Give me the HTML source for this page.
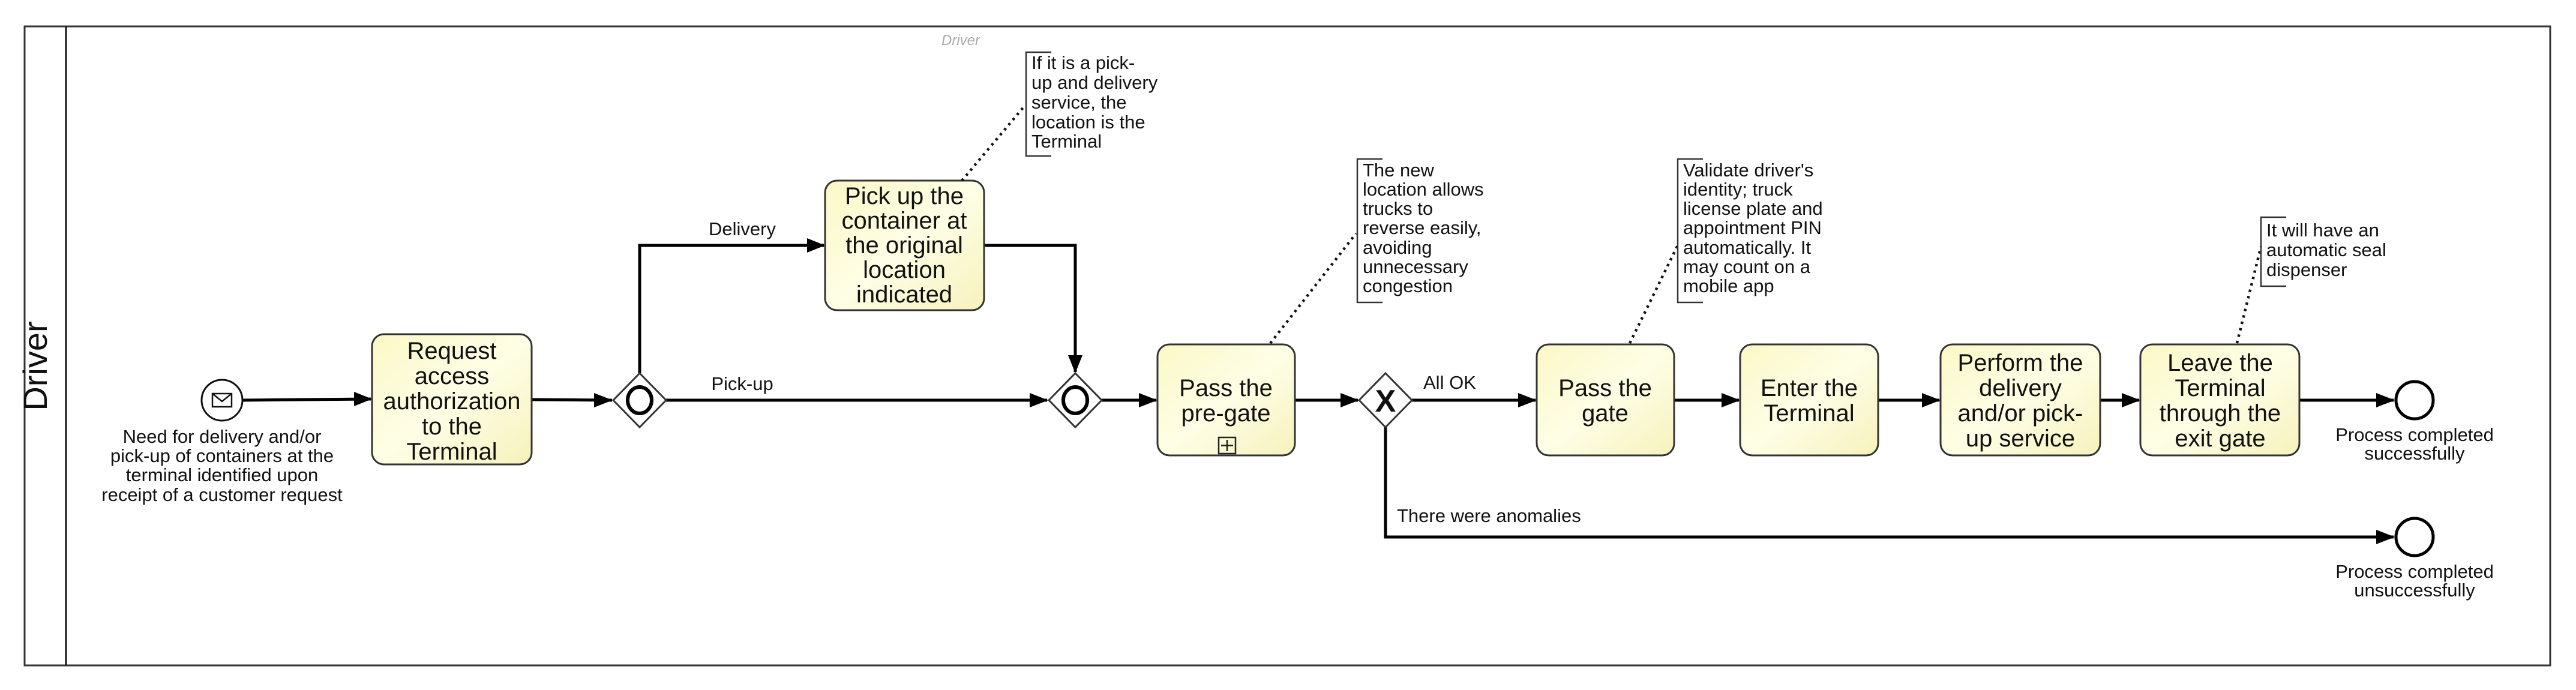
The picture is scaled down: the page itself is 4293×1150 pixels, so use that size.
<!DOCTYPE html>
<html><head><meta charset="utf-8"><style>
html,body{margin:0;padding:0;background:#fff;}
svg{display:block;}
text{font-family:"Liberation Sans Narrow","Liberation Sans",sans-serif;fill:#111;}
.t{font-size:40px;text-anchor:middle;}
.l{font-size:31px;}
.c{text-anchor:middle;}
</style></head><body>
<svg width="4293" height="1150" viewBox="0 0 4293 1150" xmlns="http://www.w3.org/2000/svg">
<defs>
<linearGradient id="g" x1="0" y1="0" x2="1" y2="1"><stop offset="0" stop-color="#fbf8c6"/><stop offset="0.5" stop-color="#fefee6"/><stop offset="1" stop-color="#f6f2bc"/></linearGradient>
</defs>
<!-- pool -->
<rect x="41" y="44" width="4209" height="1065" fill="#fff" stroke="#333" stroke-width="3"/>
<line x1="110" y1="44" x2="110" y2="1109" stroke="#111" stroke-width="3"/>
<text x="78" y="610" font-size="56" text-anchor="middle" transform="rotate(-90 78 610)" style="font-family:'Liberation Sans',sans-serif">Driver</text>
<text x="1569" y="75" font-size="24" style="fill:#aaa;font-style:italic">Driver</text>

<!-- flows -->
<g stroke="#000" stroke-width="5" fill="none">
<line x1="405" y1="667" x2="618" y2="665"/>
<line x1="886" y1="666" x2="1020" y2="667"/>
<polyline points="1066,622 1066,409 1373,409"/>
<line x1="1110" y1="667" x2="1745" y2="667"/>
<polyline points="1640,409 1792,409 1792,620"/>
<line x1="1836" y1="667" x2="1927" y2="667"/>
<line x1="2158" y1="667" x2="2263" y2="667"/>
<line x1="2353" y1="667" x2="2559" y2="667"/>
<polyline points="2309,712 2309,895 3989,895"/>
<line x1="2790" y1="667" x2="2898" y2="667"/>
<line x1="3130" y1="667" x2="3232" y2="667"/>
<line x1="3500" y1="667" x2="3565" y2="667"/>
<line x1="3832" y1="667" x2="3989" y2="667"/>
</g>
<g fill="#000">
<path d="M590,653L620,665L590,677z"/>
<path d="M990,655L1021,667L990,679z"/>
<path d="M1345,397L1375,409L1345,421z"/>
<path d="M1716,655L1747,667L1716,679z"/>
<path d="M1780,592L1792,622L1804,592z"/>
<path d="M1898,655L1929,667L1898,679z"/>
<path d="M2234,655L2265,667L2234,679z"/>
<path d="M2530,655L2561,667L2530,679z"/>
<path d="M2869,655L2900,667L2869,679z"/>
<path d="M3203,655L3234,667L3203,679z"/>
<path d="M3536,655L3567,667L3536,679z"/>
<path d="M3960,655L3991,667L3960,679z"/>
<path d="M3960,883L3991,895L3960,907z"/>
</g>

<!-- start event -->
<circle cx="370" cy="667" r="34" fill="#fff" stroke="#111" stroke-width="3"/>
<rect x="354" y="656" width="32" height="22" fill="none" stroke="#111" stroke-width="2.5"/>
<polyline points="354,656 370,669 386,656" fill="none" stroke="#111" stroke-width="2.5"/>
<text x="370" y="738" class="l c">Need for delivery and/or</text><text x="370" y="770" class="l c">pick-up of containers at the</text><text x="370" y="802" class="l c">terminal identified upon</text><text x="370" y="835" class="l c">receipt of a customer request</text>

<!-- tasks -->
<g fill="url(#g)" stroke="#333" stroke-width="3">
<rect x="620" y="557" width="266" height="217" rx="20"/>
<rect x="1375" y="301" width="265" height="216" rx="20"/>
<rect x="1929" y="574" width="229" height="185" rx="20"/>
<rect x="2561" y="574" width="229" height="185" rx="20"/>
<rect x="2900" y="574" width="230" height="185" rx="20"/>
<rect x="3234" y="574" width="266" height="185" rx="20"/>
<rect x="3567" y="574" width="265" height="185" rx="20"/>
</g>
<text class="t" x="753" y="598">Request</text><text class="t" x="753" y="640">access</text><text class="t" x="753" y="682">authorization</text><text class="t" x="753" y="724">to the</text><text class="t" x="753" y="766">Terminal</text>
<text class="t" x="1507" y="340">Pick up the</text><text class="t" x="1507" y="381">container at</text><text class="t" x="1507" y="422">the original</text><text class="t" x="1507" y="463">location</text><text class="t" x="1507" y="504">indicated</text>
<text class="t" x="2043" y="660">Pass the</text><text class="t" x="2043" y="702">pre-gate</text>
<text class="t" x="2675" y="660">Pass the</text><text class="t" x="2675" y="702">gate</text>
<text class="t" x="3015" y="660">Enter the</text><text class="t" x="3015" y="702">Terminal</text>
<text class="t" x="3367" y="618">Perform the</text><text class="t" x="3367" y="660">delivery</text><text class="t" x="3367" y="702">and/or pick-</text><text class="t" x="3367" y="744">up service</text>
<text class="t" x="3700" y="618">Leave the</text><text class="t" x="3700" y="660">Terminal</text><text class="t" x="3700" y="702">through the</text><text class="t" x="3700" y="744">exit gate</text>
<rect x="2031" y="729" width="28" height="27" fill="none" stroke="#222" stroke-width="2.5"/>
<path d="M2045,733V752M2035,742.5H2055" stroke="#222" stroke-width="2.5"/>

<!-- gateways -->
<g fill="#fff" stroke="#333" stroke-width="3">
<path d="M1066,622L1110,667L1066,712L1022,667z"/>
<path d="M1792,622L1836,667L1792,712L1748,667z"/>
<path d="M2309,622L2353,667L2309,712L2265,667z"/>
</g>
<ellipse cx="1066" cy="667" rx="20" ry="22" fill="none" stroke="#000" stroke-width="6"/>
<ellipse cx="1792" cy="667" rx="20" ry="22" fill="none" stroke="#000" stroke-width="6"/>
<text x="2309" y="686" font-size="52" font-weight="bold" text-anchor="middle" style="font-family:'Liberation Sans Narrow','Liberation Sans',sans-serif">X</text>

<!-- end events -->
<circle cx="4024" cy="667" r="31" fill="#fff" stroke="#000" stroke-width="5"/>
<circle cx="4024" cy="895" r="31" fill="#fff" stroke="#000" stroke-width="5"/>
<text class="l c" x="4024" y="735">Process completed</text><text class="l c" x="4024" y="766">successfully</text>
<text class="l c" x="4024" y="963">Process completed</text><text class="l c" x="4024" y="994">unsuccessfully</text>

<!-- flow labels -->
<text class="l c" x="1237" y="392">Delivery</text>
<text class="l c" x="1237" y="650">Pick-up</text>
<text class="l" x="2372" y="648">All OK</text>
<text class="l" x="2328" y="870">There were anomalies</text>

<!-- annotations -->
<g stroke="#111" stroke-width="4.5" stroke-dasharray="4,7" fill="none">
<line x1="1603" y1="301" x2="1708" y2="176"/>
<line x1="2117" y1="572" x2="2260" y2="389"/>
<line x1="2716" y1="572" x2="2797" y2="407"/>
<line x1="3728" y1="572" x2="3768" y2="411"/>
</g>
<g stroke="#333" stroke-width="2.5" fill="none">
<polyline points="1752,87 1710,87 1710,260 1752,260"/>
<polyline points="2304,265 2262,265 2262,504 2304,504"/>
<polyline points="2838,265 2796,265 2796,504 2838,504"/>
<polyline points="3810,362 3768,362 3768,477 3810,477"/>
</g>
<text class="l" x="1719" y="115">If it is a pick-</text><text class="l" x="1719" y="148">up and delivery</text><text class="l" x="1719" y="181">service, the</text><text class="l" x="1719" y="214">location is the</text><text class="l" x="1719" y="246">Terminal</text>
<text class="l" x="2271" y="294">The new</text><text class="l" x="2271" y="326">location allows</text><text class="l" x="2271" y="358">trucks to</text><text class="l" x="2271" y="390">reverse easily,</text><text class="l" x="2271" y="423">avoiding</text><text class="l" x="2271" y="455">unnecessary</text><text class="l" x="2271" y="487">congestion</text>
<text class="l" x="2805" y="294">Validate driver's</text><text class="l" x="2805" y="326">identity; truck</text><text class="l" x="2805" y="358">license plate and</text><text class="l" x="2805" y="390">appointment PIN</text><text class="l" x="2805" y="423">automatically. It</text><text class="l" x="2805" y="455">may count on a</text><text class="l" x="2805" y="487">mobile app</text>
<text class="l" x="3777" y="394">It will have an</text><text class="l" x="3777" y="427">automatic seal</text><text class="l" x="3777" y="460">dispenser</text>
</svg>
</body></html>
